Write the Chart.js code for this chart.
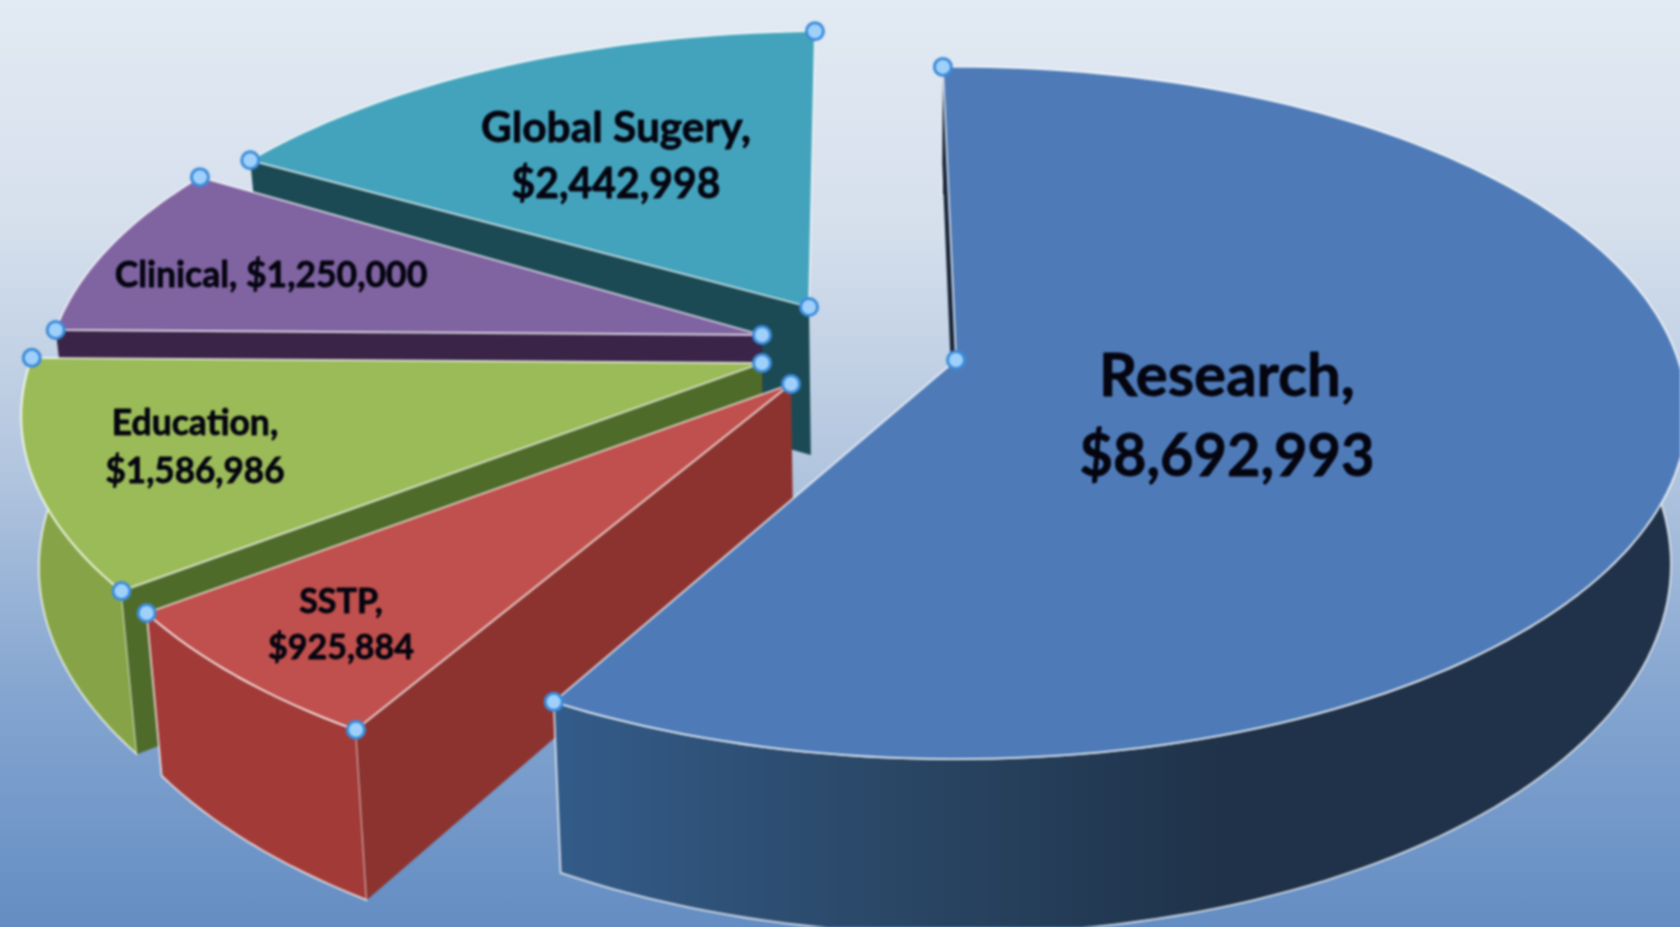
<!DOCTYPE html>
<html>
<head>
<meta charset="utf-8">
<title>Budget pie</title>
<script src="https://cdn.jsdelivr.net/npm/chart.js@4/dist/chart.umd.min.js"></script>
<style>
  html, body { margin: 0; height: 100%; overflow: hidden; }
  body { background: linear-gradient(180deg, #e2eaf3 0%, #d5dfec 25%, #b3c6df 50%, #84a5d0 75%, #648dc3 100%); }
  #wrap { width: 1680px; height: 927px; }
  canvas { display: block; filter: blur(0.8px); }
</style>
</head>
<body>
<div id="wrap"><canvas id="pie" width="1680" height="927"></canvas></div>
<script>
// Data
const categories = ['Research', 'SSTP', 'Education', 'Clinical', 'Global Sugery'];
const budget = [8692993, 925884, 1586986, 1250000, 2442998];

const sliceColors = ['#4e7bb8', '#c0504d', '#9bbb59', '#8064a2', '#44a3bc'];
const rimColors = ['#2a4766', '#a23b38', '#86a447', '#5d4577', '#2f7a8e'];
const sideColors = ['#18263a', '#8c332f', '#4f6b2a', '#3a2448', '#1b4a55'];

// Each exploded slice: apex on screen, radii, skew, small turn in degrees
const sliceLayout = [
  { cx: 956, cy: 360, rx: 722, ry: 338, skew: 0, turn: 0, face: 0.75 },
  { cx: 791, cy: 384, rx: 727, ry: 352, skew: 0, turn: 2.5, face: 1 },
  { cx: 762, cy: 363, rx: 732, ry: 340, skew: 0, turn: 1.3, face: 1 },
  { cx: 762, cy: 335, rx: 708, ry: 330, skew: 0, turn: 1.3, face: 1 },
  { cx: 809, cy: 307, rx: 705, ry: 318, skew: -0.068, turn: 0, face: 1 }
];
const PERSPECTIVE = 0.153;
const DEPTH = 148;
const VANISH_X = 900;
const SHRINK = 0.02;

// Label lines, placed by hand
const labelLayout = [
  { x: 1227, y: [377, 457], size: 60, width: [257, 295] },
  { x: 341, y: [602, 648], size: 34, width: [84, 148] },
  { x: 195, y: [424, 472], size: 35.5, width: [171, 179] },
  { x: 271, y: [276], size: 35.5, width: [313] },
  { x: 616, y: [128, 184], size: 42.5, width: [270, 209] }
];

function project(layout, angle, z) {
  const a = angle + layout.turn * Math.PI / 180;
  const u = Math.cos(a), v = Math.sin(a);
  const s = 1 / (1 - PERSPECTIVE * v);
  const dy = layout.ry * v * s;
  let x = layout.cx + layout.rx * u * s + layout.skew * dy;
  const y = layout.cy + dy + z * DEPTH * s;
  x += (VANISH_X - x) * SHRINK * z;
  return { x, y };
}

function apex(layout, z) {
  const x = layout.cx + (VANISH_X - layout.cx) * SHRINK * z;
  return { x, y: layout.cy + z * DEPTH };
}

function rimPoints(layout, a0, a1, z) {
  const steps = Math.max(8, Math.ceil(Math.abs(a1 - a0) * 40));
  const pts = [];
  for (let i = 0; i <= steps; i++) {
    pts.push(project(layout, a0 + (a1 - a0) * i / steps, z));
  }
  return pts;
}

function fillPoly(ctx, pts, fill, stroke, lineWidth) {
  ctx.beginPath();
  pts.forEach((p, i) => i ? ctx.lineTo(p.x, p.y) : ctx.moveTo(p.x, p.y));
  ctx.closePath();
  ctx.fillStyle = fill;
  ctx.fill();
  if (stroke) {
    ctx.strokeStyle = stroke;
    ctx.lineWidth = lineWidth;
    ctx.stroke();
  }
}

const pie3d = {
  id: 'pie3d',
  beforeDatasetDraw(chart) {
    const ctx = chart.ctx;
    const arcs = chart.getDatasetMeta(0).data;
    const edge = 'rgba(255,255,255,0.75)';

    ctx.save();
    ctx.lineJoin = 'round';

    // far slices first, Research last
    for (let i = arcs.length - 1; i >= 0; i--) {
      const arc = arcs[i];
      const layout = sliceLayout[i];
      const a0 = arc.startAngle, a1 = arc.endAngle;
      const top = rimPoints(layout, a0, a1, 0);

      // outer wall, only the near slices show one
      if (i < 3) {
        const bottom = rimPoints(layout, a0, a1, 1);
        let rimFill = rimColors[i];
        if (i === 0) {
          rimFill = ctx.createLinearGradient(552, 0, 1680, 0);
          rimFill.addColorStop(0, '#345c8a');
          rimFill.addColorStop(0.3, '#2a4766');
          rimFill.addColorStop(0.6, '#1f3249');
          rimFill.addColorStop(1, '#1f3249');
        }
        fillPoly(ctx, top.concat(bottom.slice().reverse()), rimFill, edge, 1.8);
      }

      // cut faces that look toward the viewer
      const z = layout.face;
      if (-Math.cos(a0) > 0) {
        fillPoly(ctx, [apex(layout, 0), project(layout, a0, 0), project(layout, a0, z), apex(layout, z)], sideColors[i]);
      }
      if (Math.cos(a1) > 0) {
        fillPoly(ctx, [apex(layout, 0), project(layout, a1, 0), project(layout, a1, z), apex(layout, z)], sideColors[i]);
      }

      // top face
      fillPoly(ctx, [apex(layout, 0)].concat(top), arc.options.backgroundColor, arc.options.borderColor, arc.options.borderWidth);
    }

    // selection handles on the corners of every slice
    arcs.forEach((arc, i) => {
      const layout = sliceLayout[i];
      [apex(layout, 0), project(layout, arc.startAngle, 0), project(layout, arc.endAngle, 0)].forEach(p => {
        ctx.beginPath();
        ctx.arc(p.x, p.y, 8.5, 0, Math.PI * 2);
        ctx.fillStyle = '#9fd0fb';
        ctx.fill();
        ctx.strokeStyle = '#3c8cda';
        ctx.lineWidth = 3;
        ctx.stroke();
      });
    });

    // labels
    ctx.textAlign = 'center';
    ctx.textBaseline = 'middle';
    ctx.fillStyle = '#050510';
    ctx.strokeStyle = '#050510';
    ctx.lineWidth = 0.8;
    categories.forEach((name, i) => {
      const pos = labelLayout[i];
      const money = '$' + budget[i].toLocaleString('en-US');
      const lines = pos.y.length > 1 ? [name + ',', money] : [name + ', ' + money];
      ctx.font = 'bold ' + pos.size + 'px Lato, "Open Sans", sans-serif';
      lines.forEach((line, j) => {
        ctx.fillText(line, pos.x, pos.y[j], pos.width[j]);
        ctx.strokeText(line, pos.x, pos.y[j], pos.width[j]);
      });
    });

    ctx.restore();
    return false;
  }
};

new Chart(document.getElementById('pie'), {
  type: 'pie',
  data: {
    labels: categories,
    datasets: [{
      data: budget,
      backgroundColor: sliceColors,
      borderColor: 'rgba(255,255,255,0.75)',
      borderWidth: 1.8
    }]
  },
  options: {
    responsive: false,
    animation: false,
    rotation: -1.2,
    plugins: { legend: { display: false }, tooltip: { enabled: false } }
  },
  plugins: [pie3d]
});
</script>
</body>
</html>
